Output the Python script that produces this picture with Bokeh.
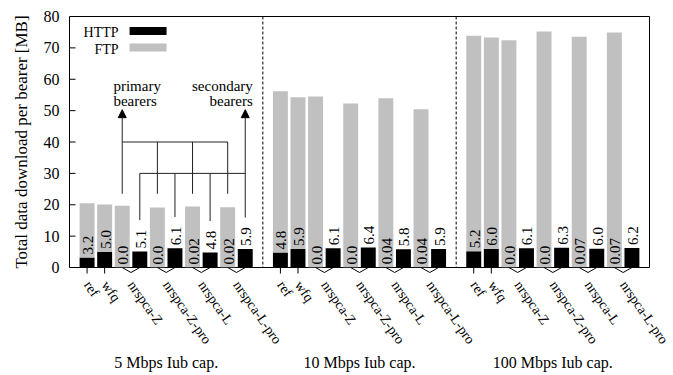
import math
from bokeh.plotting import figure
from bokeh.models import Range1d, Span, Arrow, NormalHead
from bokeh.core.properties import value
from bokeh.embed import file_html
from bokeh.resources import INLINE

# ---------------- data ----------------
groups = ["5 Mbps Iub cap.", "10 Mbps Iub cap.", "100 Mbps Iub cap."]
categories = ["ref", "wfq", "nrspca-Z", "nrspca-Z-pro", "nrspca-L", "nrspca-L-pro"]
# primary bearer (ref and wfq have a single bearer)
http_primary = [
    [3.2, 5.0, 0.0, 0.0, 0.02, 0.02],
    [4.8, 5.9, 0.0, 0.0, 0.04, 0.04],
    [5.2, 6.0, 0.0, 0.0, 0.07, 0.07],
]
ftp_primary = [
    [17.3, 15.1, 19.7, 19.1, 19.4, 19.2],
    [51.4, 48.4, 54.5, 52.3, 53.9, 50.4],
    [68.7, 67.3, 72.4, 75.2, 73.5, 74.8],
]
# secondary bearer (only nrspca variants)
http_secondary = [
    [None, None, 5.1, 6.1, 4.8, 5.9],
    [None, None, 6.1, 6.4, 5.8, 5.9],
    [None, None, 6.1, 6.3, 6.0, 6.2],
]
y_ticks = [0, 10, 20, 30, 40, 50, 60, 70, 80]
y_label = "Total data download per bearer [MB]"

FONT = "Liberation Serif"
GRAY = "#c0c0c0"

def fmt(v):
    return f"{v:.2f}" if 0 < v < 0.1 else f"{v:.1f}"

# ---------------- layout of slots ----------------
SLOTS = 11  # slots per group
bx, bh, bf, blab = [], [], [], []
tick_pos, tick_names = [], []
single_ticks, pair_ticks = [], []
prim_x, sec_x = {}, {}
for g in range(len(groups)):
    base = g * SLOTS
    for c, name in enumerate(categories):
        if http_secondary[g][c] is None:
            x = base + 1 + c
            bx.append(x); bh.append(http_primary[g][c]); bf.append(ftp_primary[g][c])
            blab.append(fmt(http_primary[g][c]))
            tick_pos.append(x); tick_names.append(name); single_ticks.append(x)
        else:
            xp = base + 3 + 2 * (c - 2)
            xs = xp + 1
            bx.append(xp); bh.append(http_primary[g][c]); bf.append(ftp_primary[g][c])
            blab.append(fmt(http_primary[g][c]))
            bx.append(xs); bh.append(http_secondary[g][c]); bf.append(0.0)
            blab.append(fmt(http_secondary[g][c]))
            tick_pos.append((xp + xs) / 2); tick_names.append(name)
            pair_ticks.append((xp, xs))
            prim_x[(g, c)] = xp
            sec_x[(g, c)] = xs
xmax = SLOTS * len(groups)
group_centers = [g * SLOTS + SLOTS / 2 for g in range(len(groups))]
separators = [g * SLOTS for g in range(1, len(groups))]
btop = [h + f for h, f in zip(bh, bf)]
YMAX = y_ticks[-1]

# ---------------- figure ----------------
FRAME_W, FRAME_H = 580, 251
p = figure(width=673, height=375, x_range=Range1d(0, xmax), y_range=Range1d(0, YMAX),
           output_backend="svg", toolbar_location=None,
           min_border_left=69, min_border_right=24, min_border_top=16, min_border_bottom=108)
p.grid.visible = False
p.xaxis.visible = False
p.yaxis.visible = False
p.outline_line_color = "black"
p.outline_line_alpha = 1.0
p.outline_line_width = 1
p.background_fill_color = "white"
p.border_fill_color = "white"

x_per_px = xmax / FRAME_W
y_per_px = YMAX / FRAME_H

# y axis: inward ticks, labels and title
p.segment(x0=[0] * len(y_ticks), y0=y_ticks, x1=[6 * x_per_px] * len(y_ticks), y1=y_ticks,
          line_color="black", line_width=1)
p.text(x=[0] * len(y_ticks), y=y_ticks, text=[str(t) for t in y_ticks], text_align="right",
       text_baseline="middle", x_offset=-10, text_font=value(FONT), text_font_size="16px",
       text_color="black", level="overlay")
p.text(x=[0], y=[YMAX / 2], text=[y_label], angle=math.pi / 2, text_align="center",
       text_baseline="middle", x_offset=-48, text_font=value(FONT), text_font_size="17px",
       text_color="black", level="overlay")

# bars
W = 0.85
p.vbar(x=bx, bottom=0, top=bh, width=W, fill_color="black", line_color=None)
p.vbar(x=bx, bottom=bh, top=btop, width=W, fill_color=GRAY, line_color=None)

# value labels
p.text(x=bx, y=bh, text=blab, angle=math.pi / 2, text_align="left", text_baseline="middle",
       x_offset=1, y_offset=-3, text_font=value(FONT), text_font_size="15px", text_color="black")

# separators
for s in separators:
    p.add_layout(Span(location=s, dimension="height", line_color="black", line_width=1,
                      line_dash="3 2"))

# x tick marks and labels below the axis (outside the frame)
tick_len = 6 * y_per_px
v_depth = 5 * y_per_px
p.segment(x0=single_ticks, y0=[0] * len(single_ticks), x1=single_ticks,
          y1=[-tick_len] * len(single_ticks), line_color="black", line_width=1, level="overlay")
vx0 = [a for a, b in pair_ticks] + [(a + b) / 2 for a, b in pair_ticks]
vx1 = [(a + b) / 2 for a, b in pair_ticks] + [b for a, b in pair_ticks]
vy0 = [0] * len(pair_ticks) + [-v_depth] * len(pair_ticks)
vy1 = [-v_depth] * len(pair_ticks) + [0] * len(pair_ticks)
p.segment(x0=vx0, y0=vy0, x1=vx1, y1=vy1, line_color="black", line_width=1, level="overlay")

p.text(x=tick_pos, y=[0] * len(tick_pos), text=tick_names, angle=-0.96, text_align="left",
       text_baseline="middle", x_offset=0, y_offset=15, text_font=value(FONT),
       text_font_size="14px", text_color="black", level="overlay")
p.text(x=group_centers, y=[0] * len(group_centers), text=groups, text_align="center",
       text_baseline="middle", y_offset=95, text_font=value(FONT),
       text_font_size="16px", text_color="black", level="overlay")

# legend (key to the right of the label)
p.text(x=[2.79, 2.79], y=[75.4, 70.1], text=["HTTP", "FTP"], text_align="right",
       text_baseline="middle", y_offset=2, text_font=value(FONT), text_font_size="14px",
       text_color="black")
p.rect(x=[4.47, 4.47], y=[75.4, 70.1], width=37, height=8, width_units="screen",
       height_units="screen", fill_color=["black", GRAY], line_color=None)

# primary / secondary bearer annotation (first group)
LINE = "#222222"
prim = [prim_x[(0, c)] for c in range(2, 6)]
sec = [sec_x[(0, c)] for c in range(2, 6)]
sec_h = [http_secondary[0][c] for c in range(2, 6)]
P_Y, S_Y, P_LOW, TIP = 40.0, 30.0, 23.5, 50.3
p.segment(x0=[prim[0]], y0=[P_Y], x1=[prim[-1]], y1=[P_Y], line_color=LINE, line_width=1)
p.segment(x0=prim[1:], y0=[P_Y] * 3, x1=prim[1:], y1=[P_LOW] * 3, line_color=LINE, line_width=1)
p.segment(x0=[sec[0]], y0=[S_Y], x1=[sec[-1]], y1=[S_Y], line_color=LINE, line_width=1)
p.segment(x0=sec[:-1], y0=[S_Y] * 3, x1=sec[:-1], y1=[h + 10 for h in sec_h[:-1]],
          line_color=LINE, line_width=1)
p.add_layout(Arrow(end=NormalHead(size=8, fill_color="black", line_color="black"),
                   x_start=prim[0], y_start=P_LOW, x_end=prim[0], y_end=TIP,
                   line_color=LINE, line_width=1))
p.add_layout(Arrow(end=NormalHead(size=8, fill_color="black", line_color="black"),
                   x_start=sec[-1], y_start=sec_h[-1] + 10, x_end=sec[-1], y_end=TIP,
                   line_color=LINE, line_width=1))
p.text(x=[2.5, 2.5], y=[57.7, 53.2], text=["primary", "bearers"], text_align="left",
       text_baseline="alphabetic", text_font=value(FONT), text_font_size="15px",
       text_color="black")
p.text(x=[10.43, 10.43], y=[57.7, 53.2], text=["secondary", "bearers"], text_align="right",
       text_baseline="alphabetic", text_font=value(FONT), text_font_size="15px",
       text_color="black")

open("out.html", "w").write(file_html(p, INLINE))
